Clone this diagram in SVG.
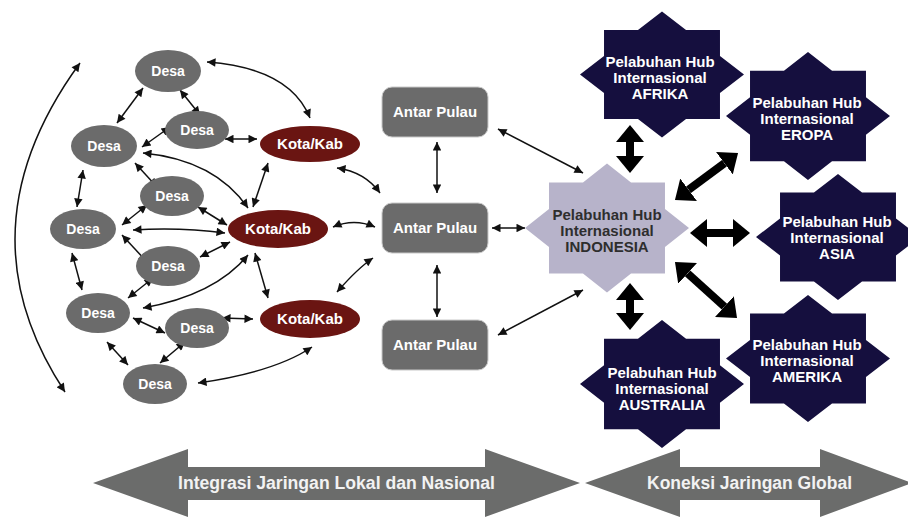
<svg xmlns="http://www.w3.org/2000/svg" xmlns:xlink="http://www.w3.org/1999/xlink" width="908" height="517" viewBox="0 0 908 517">
<style>
.desa{fill:#6b6b6b}
.kota{fill:#6a1512}
.ap{fill:#6b6b6b;stroke:#c8c8c8;stroke-width:1}
.hub{fill:#150f3e}
.indo{fill:#b7b3ca}
.big{fill:#6b6c6b}
.t{font-family:"Liberation Sans",Arial,sans-serif;font-weight:bold;text-anchor:middle;fill:#ffffff}
.tn{font-size:14px}
.tk{font-size:15px}
.th{font-size:15px}
.ti{fill:#2e2e2e}
.tb{font-size:18px;fill:#f2f2f2}
.c{fill:none;stroke:#111;stroke-width:1.5;marker-start:url(#a);marker-end:url(#a)}
.w{fill:none;stroke:#000;stroke-width:8;marker-start:url(#b);marker-end:url(#b)}
</style>
<defs>
<marker id="a" viewBox="0 0 10 10" refX="10" refY="5" markerWidth="10" markerHeight="8.5" markerUnits="userSpaceOnUse" orient="auto-start-reverse"><path d="M0,0 L10,5 L0,10 z" fill="#111"/></marker>
<marker id="b" viewBox="0 0 17 28" refX="0" refY="14" markerWidth="17" markerHeight="28" markerUnits="userSpaceOnUse" orient="auto-start-reverse"><path d="M0,0 L17,14 L0,28 z" fill="#000"/></marker>
<polygon id="star" points="100,0 70.7,29.3 70.7,70.7 29.3,70.7 0,100 -29.3,70.7 -70.7,70.7 -70.7,29.3 -100,0 -70.7,-29.3 -70.7,-70.7 -29.3,-70.7 0,-100 29.3,-70.7 70.7,-70.7 70.7,-29.3"/>
</defs>

<g id="band-lokal">
<polygon class="big" points="93,483 188,449 188,467 485,467 485,449 580,483 485,517 485,500 188,500 188,517"/>
<text class="t tb" x="336.5" y="489" textLength="317" lengthAdjust="spacingAndGlyphs">Integrasi Jaringan Lokal dan Nasional</text>
</g>
<g id="band-global">
<polygon class="big" points="585,483 680,449 680,467 820,467 820,449 912,483 820,517 820,500 680,500 680,517"/>
<text class="t tb" x="749.5" y="489" textLength="205" lengthAdjust="spacingAndGlyphs">Koneksi Jaringan Global</text>
</g>

<g id="connectors">
<path class="c" d="M80,63 Q-42,230 65,392"/>
<path class="c" d="M207,62 Q290,68 310,118"/>
<line class="c" x1="143" y1="88" x2="117" y2="123"/>
<line class="c" x1="180" y1="90" x2="200" y2="115"/>
<line class="c" x1="170" y1="127" x2="142" y2="147"/>
<line class="c" x1="225" y1="139" x2="257" y2="139"/>
<path class="c" d="M143,153 Q215,160 248,208"/>
<line class="c" x1="135" y1="163" x2="157" y2="187"/>
<line class="c" x1="83" y1="170" x2="77" y2="207"/>
<line class="c" x1="268" y1="163" x2="253" y2="207"/>
<path class="c" d="M337,168 Q365,172 380,193"/>
<path class="c" d="M333,227 Q354,218 375,227"/>
<line class="c" x1="147" y1="205" x2="122" y2="225"/>
<line class="c" x1="198" y1="207" x2="227" y2="225"/>
<path class="c" d="M133,230 Q180,227 225,233"/>
<line class="c" x1="122" y1="235" x2="147" y2="262"/>
<line class="c" x1="200" y1="257" x2="230" y2="242"/>
<line class="c" x1="72" y1="253" x2="82" y2="290"/>
<line class="c" x1="153" y1="278" x2="128" y2="298"/>
<path class="c" d="M248,255 Q215,295 143,308"/>
<line class="c" x1="255" y1="253" x2="268" y2="298"/>
<path class="c" d="M373,258 Q358,268 337,292"/>
<line class="c" x1="133" y1="318" x2="165" y2="333"/>
<line class="c" x1="222" y1="318" x2="253" y2="319"/>
<line class="c" x1="107" y1="342" x2="128" y2="365"/>
<line class="c" x1="185" y1="342" x2="160" y2="363"/>
<path class="c" d="M198,383 Q275,372 312,347"/>
<line class="c" x1="437" y1="142" x2="437" y2="193"/>
<line class="c" x1="437" y1="265" x2="437" y2="317"/>
<line class="c" x1="492" y1="228" x2="525" y2="228"/>
<line class="c" x1="498" y1="129" x2="583" y2="173"/>
<line class="c" x1="498" y1="335" x2="583" y2="290"/>
<line class="w" x1="630" y1="142" x2="630" y2="156"/>
<line class="w" x1="688.6" y1="189.8" x2="724.4" y2="163.2"/>
<line class="w" x1="707" y1="233" x2="733" y2="233"/>
<line class="w" x1="687.6" y1="273.4" x2="724.4" y2="306.6"/>
<line class="w" x1="630" y1="300" x2="630" y2="313"/>
</g>

<g id="desa1"><ellipse class="desa" cx="168" cy="71" rx="33" ry="21"/><text class="t tn" x="168" y="76">Desa</text></g>
<g id="desa2"><ellipse class="desa" cx="197" cy="130" rx="32" ry="19"/><text class="t tn" x="197" y="135">Desa</text></g>
<g id="desa3"><ellipse class="desa" cx="104" cy="146" rx="33" ry="21"/><text class="t tn" x="104" y="151">Desa</text></g>
<g id="desa4"><ellipse class="desa" cx="172" cy="196" rx="32" ry="20"/><text class="t tn" x="172" y="201">Desa</text></g>
<g id="desa5"><ellipse class="desa" cx="83" cy="229" rx="33" ry="20"/><text class="t tn" x="83" y="234">Desa</text></g>
<g id="desa6"><ellipse class="desa" cx="168" cy="266" rx="32" ry="20"/><text class="t tn" x="168" y="271">Desa</text></g>
<g id="desa7"><ellipse class="desa" cx="98" cy="313" rx="32" ry="20"/><text class="t tn" x="98" y="318">Desa</text></g>
<g id="desa8"><ellipse class="desa" cx="197" cy="328" rx="32" ry="20"/><text class="t tn" x="197" y="333">Desa</text></g>
<g id="desa9"><ellipse class="desa" cx="155" cy="384" rx="32" ry="20"/><text class="t tn" x="155" y="389">Desa</text></g>

<g id="kota1"><ellipse class="kota" cx="310" cy="144" rx="50" ry="18"/><text class="t tk" x="310" y="149">Kota/Kab</text></g>
<g id="kota2"><ellipse class="kota" cx="278" cy="229" rx="50" ry="19"/><text class="t tk" x="278" y="234">Kota/Kab</text></g>
<g id="kota3"><ellipse class="kota" cx="310" cy="319" rx="50" ry="19"/><text class="t tk" x="310" y="324">Kota/Kab</text></g>

<g id="pulau1"><rect class="ap" x="382" y="87" width="106" height="50" rx="10"/><text class="t tk" x="435" y="117">Antar Pulau</text></g>
<g id="pulau2"><rect class="ap" x="382" y="203" width="106" height="50" rx="10"/><text class="t tk" x="435" y="233">Antar Pulau</text></g>
<g id="pulau3"><rect class="ap" x="382" y="320" width="106" height="50" rx="10"/><text class="t tk" x="435" y="350">Antar Pulau</text></g>

<g id="hub-indonesia"><use xlink:href="#star" class="indo" transform="translate(607,228) scale(0.82,0.645)"/>
<text class="t th ti" x="607" y="220">Pelabuhan Hub</text><text class="t th ti" x="607" y="236">Internasional</text><text class="t th ti" x="607" y="252">INDONESIA</text></g>
<g id="hub-afrika"><use xlink:href="#star" class="hub" transform="translate(662,74.5) scale(0.82,0.63)"/>
<text class="t th" x="660" y="67">Pelabuhan Hub</text><text class="t th" x="660" y="83">Internasional</text><text class="t th" x="660" y="99">AFRIKA</text></g>
<g id="hub-eropa"><use xlink:href="#star" class="hub" transform="translate(808,116) scale(0.82,0.64)"/>
<text class="t th" x="807" y="108">Pelabuhan Hub</text><text class="t th" x="807" y="124">Internasional</text><text class="t th" x="807" y="140">EROPA</text></g>
<g id="hub-asia"><use xlink:href="#star" class="hub" transform="translate(838,237) scale(0.82,0.63)"/>
<text class="t th" x="837" y="227">Pelabuhan Hub</text><text class="t th" x="837" y="243">Internasional</text><text class="t th" x="837" y="259">ASIA</text></g>
<g id="hub-amerika"><use xlink:href="#star" class="hub" transform="translate(808,358.5) scale(0.82,0.635)"/>
<text class="t th" x="807" y="350">Pelabuhan Hub</text><text class="t th" x="807" y="366">Internasional</text><text class="t th" x="807" y="382">AMERIKA</text></g>
<g id="hub-australia"><use xlink:href="#star" class="hub" transform="translate(662,384) scale(0.82,0.64)"/>
<text class="t th" x="662" y="378">Pelabuhan Hub</text><text class="t th" x="662" y="394">Internasional</text><text class="t th" x="662" y="410">AUSTRALIA</text></g>
</svg>
